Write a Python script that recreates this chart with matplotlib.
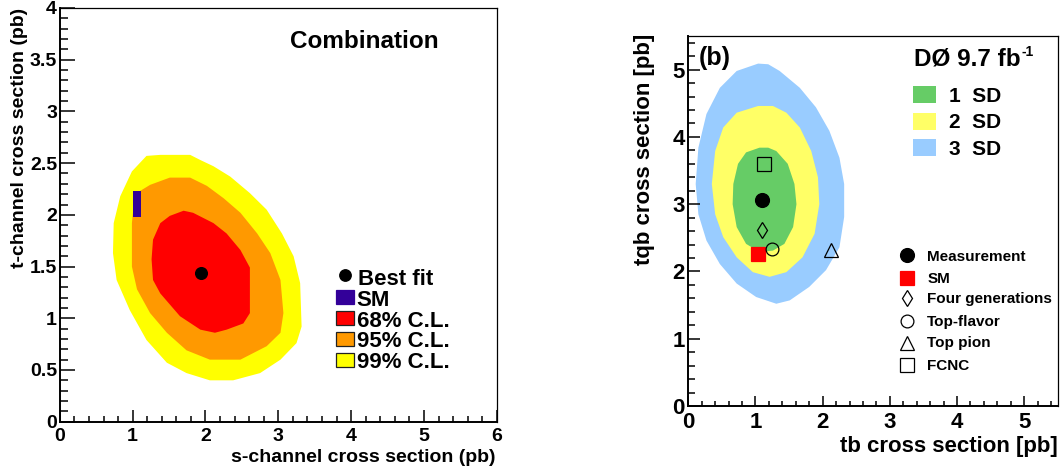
import matplotlib
matplotlib.use("Agg")
import matplotlib.pyplot as plt
from matplotlib.ticker import MultipleLocator, FuncFormatter
from matplotlib.patches import Rectangle

plt.rcParams['font.family'] = ['Liberation Sans', 'DejaVu Sans']
plt.rcParams['font.weight'] = 'bold'

W, H = 1062, 469

# ---------------- Left panel: s-channel vs t-channel combination ----------------
cl99_s = [0.99, 1.19, 1.38, 1.79, 1.93, 2.11, 2.34, 2.61, 2.84, 3.05, 3.21, 3.30, 3.32,
          3.25, 3.03, 2.75, 2.38, 2.06, 1.74, 1.47, 1.19, 0.96, 0.78, 0.73, 0.74, 0.83]
cl99_t = [2.42, 2.57, 2.58, 2.58, 2.53, 2.47, 2.37, 2.21, 2.05, 1.82, 1.60, 1.34, 0.92,
          0.76, 0.60, 0.47, 0.40, 0.40, 0.47, 0.57, 0.79, 1.08, 1.37, 1.63, 1.92, 2.18]

cl95_s = [1.03, 1.24, 1.51, 1.79, 2.02, 2.25, 2.48, 2.71, 2.89, 3.03, 3.07, 3.03, 2.84,
          2.48, 2.06, 1.74, 1.47, 1.24, 1.06, 0.99, 0.99]
cl95_t = [2.20, 2.29, 2.36, 2.36, 2.28, 2.16, 2.02, 1.82, 1.63, 1.37, 1.05, 0.86, 0.73,
          0.60, 0.60, 0.69, 0.86, 1.05, 1.28, 1.50, 1.92]

cl68_s = [1.38, 1.51, 1.70, 1.83, 2.11, 2.29, 2.48, 2.61, 2.61, 2.52, 2.29, 2.13, 1.93,
          1.65, 1.38, 1.28, 1.26, 1.28]
cl68_t = [1.92, 1.99, 2.04, 2.02, 1.92, 1.82, 1.66, 1.49, 1.05, 0.95, 0.89, 0.86, 0.89,
          1.02, 1.24, 1.37, 1.57, 1.76]

best_fit_s, best_fit_t = 1.94, 1.44
sm_s_range = (1.00, 1.115)
sm_t_range = (1.98, 2.235)

left_legend_labels = ["Best fit", "SM", "68% C.L.", "95% C.L.", "99% C.L."]

# ---------------- Right panel: tb vs tqb, D0 9.7 fb^-1 ----------------
sd3_tb = [1.04, 0.72, 0.47, 0.27, 0.15, 0.11, 0.15, 0.27, 0.47, 0.72, 1.01, 1.31,
          1.51, 1.80, 2.05, 2.25, 2.32, 2.32, 2.25, 2.10, 1.90, 1.66, 1.36, 1.19]
sd3_tqb = [5.09, 4.98, 4.73, 4.34, 3.84, 3.30, 2.85, 2.46, 2.11, 1.82, 1.62, 1.52,
           1.57, 1.77, 2.02, 2.36, 2.81, 3.30, 3.69, 4.09, 4.44, 4.73, 4.98, 5.08]

sd2_tb = [1.04, 0.72, 0.52, 0.40, 0.35, 0.40, 0.52, 0.72, 0.96, 1.21, 1.46, 1.70,
          1.88, 1.95, 1.93, 1.83, 1.66, 1.46, 1.26]
sd2_tqb = [4.46, 4.36, 4.14, 3.79, 3.30, 2.85, 2.51, 2.21, 1.99, 1.92, 1.99, 2.21,
           2.56, 3.00, 3.40, 3.79, 4.14, 4.36, 4.46]

sd1_tb = [1.06, 0.86, 0.74, 0.67, 0.66, 0.72, 0.86, 1.06, 1.26, 1.43, 1.56, 1.61,
          1.58, 1.48, 1.31, 1.19]
sd1_tqb = [3.84, 3.77, 3.60, 3.30, 3.00, 2.66, 2.41, 2.29, 2.31, 2.41, 2.66, 3.00,
           3.30, 3.60, 3.79, 3.84]

sd_labels = ["1  SD", "2  SD", "3  SD"]

model_names = ["Measurement", "SM", "Four generations", "Top-flavor", "Top pion", "FCNC"]
model_tb = [1.10, 1.04, 1.10, 1.25, 2.12, 1.12]
model_tqb = [3.06, 2.26, 2.62, 2.33, 2.32, 3.60]

# ---------------- styles ----------------
c_red, c_orange, c_yellow, c_sm = "#ff0000", "#ff9900", "#ffff00", "#330099"
c_g1, c_g2, c_g3 = "#66cc66", "#ffff66", "#99ccff"
model_markers = ["o", "s", "d", "o", "^", "s"]
model_faces = ["black", "red", "none", "none", "none", "none"]
model_edges = ["black", "red", "black", "black", "black", "black"]
model_sizes = [10.0, 10.0, 8.0, 9.2, 9.4, 9.4]

fig = plt.figure(figsize=(W / 100, H / 100), dpi=100)
fig.patch.set_facecolor("white")


def frame(ax, xlen, xmin, ylen, ymin, xpad, ypad, size):
    for s in ("left", "bottom"):
        ax.spines[s].set_linewidth(1.4)
    for s in ("top", "right"):
        ax.spines[s].set_linewidth(0.9)
    ax.tick_params(axis="x", which="major", direction="in", length=xlen, width=1.1,
                   pad=xpad, labelsize=size, top=False)
    ax.tick_params(axis="x", which="minor", direction="in", length=xmin, width=1.1, top=False)
    ax.tick_params(axis="y", which="major", direction="in", length=ylen, width=1.1,
                   pad=ypad, labelsize=size, right=False)
    ax.tick_params(axis="y", which="minor", direction="in", length=ymin, width=1.1, right=False)
    for lab in ax.get_xticklabels() + ax.get_yticklabels():
        lab.set_fontweight("bold")


fmt = FuncFormatter(lambda v, p: f"{v:g}")

# Left panel
axL = fig.add_axes([59.8 / W, 1 - 421.7 / H, 437.0 / W, 413.7 / H])
axL.fill(cl99_s, cl99_t, color=c_yellow, lw=0)
axL.fill(cl95_s, cl95_t, color=c_orange, lw=0)
axL.fill(cl68_s, cl68_t, color=c_red, lw=0)
axL.add_patch(Rectangle((sm_s_range[0], sm_t_range[0]), sm_s_range[1] - sm_s_range[0],
                        sm_t_range[1] - sm_t_range[0], facecolor=c_sm, edgecolor="none"))
axL.plot([best_fit_s], [best_fit_t], "o", color="black", ms=8.4)
axL.set_xlim(0, 6)
axL.set_ylim(0, 4)
axL.xaxis.set_major_locator(MultipleLocator(1))
axL.xaxis.set_minor_locator(MultipleLocator(0.2))
axL.yaxis.set_major_locator(MultipleLocator(0.5))
axL.yaxis.set_minor_locator(MultipleLocator(0.1))
axL.xaxis.set_major_formatter(fmt)
axL.yaxis.set_major_formatter(fmt)
frame(axL, 8.9, 4.1, 10.6, 6.0, 4.5, 2.0, 14)

# Right panel
axR = fig.add_axes([688.3 / W, 1 - 406.0 / H, 369.5 / W, 370.0 / H])
axR.fill(sd3_tb, sd3_tqb, color=c_g3, lw=0)
axR.fill(sd2_tb, sd2_tqb, color=c_g2, lw=0)
axR.fill(sd1_tb, sd1_tqb, color=c_g1, lw=0)
for x, y, m, fc, ec, ms in zip(model_tb, model_tqb, model_markers, model_faces,
                               model_edges, model_sizes):
    axR.plot([x], [y], m, ms=ms, mfc=fc, mec=ec, mew=0.9)
axR.set_xlim(0, 5.5)
axR.set_ylim(0, 5.5)
axR.xaxis.set_major_locator(MultipleLocator(1))
axR.xaxis.set_minor_locator(MultipleLocator(0.2))
axR.yaxis.set_major_locator(MultipleLocator(1))
axR.yaxis.set_minor_locator(MultipleLocator(0.2))
axR.xaxis.set_major_formatter(fmt)
axR.yaxis.set_major_formatter(fmt)
frame(axR, 7.2, 3.8, 8.4, 4.8, 4.0, 2.4, 16)

# Overlay in figure pixels for titles, axis titles and legends
ov = fig.add_axes([0, 0, 1, 1])
ov.set_xlim(0, W)
ov.set_ylim(H, 0)
ov.axis("off")
ov.patch.set_alpha(0)

tk = dict(fontweight="bold", color="black")
ov.text(24, 8.3, "t-channel cross section (pb)", rotation=90, ha="right", va="baseline",
        rotation_mode="anchor", fontsize=14, **tk)
ov.text(495.7, 461.7, "s-channel cross section (pb)", ha="right", va="baseline",
        fontsize=14, **tk)
ov.text(650, 33.3, "tqb cross section [pb]", rotation=90, ha="right", va="baseline",
        rotation_mode="anchor", fontsize=16, **tk)
ov.text(1057.8, 451.7, "tb cross section [pb]", ha="right", va="baseline",
        fontsize=16, **tk)
ov.text(290, 48.3, "Combination", ha="left", va="baseline", fontsize=17.5, **tk)
ov.text(698.3, 65, "(b)", ha="left", va="baseline", fontsize=18, **tk)

# luminosity label with superscript placed right after the main text
lumi = ov.text(914, 65.7, "DØ 9.7 fb", ha="left", va="baseline", fontsize=17.5, **tk)
renderer = fig.canvas.get_renderer()
bb = lumi.get_window_extent(renderer=renderer)
ov.text(bb.x1 + 1.0, 55.7, "-1", ha="left", va="baseline", fontsize=10, **tk)

# Left legend
ov.plot([345], [275], "o", color="black", ms=8.2)
left_fill = [c_sm, c_red, c_orange, c_yellow]
left_edge = [c_sm, "#222222", "#222222", "#222222"]
box_tops = [290, 311, 331.7, 352.7]
for fc, ec, top in zip(left_fill, left_edge, box_tops):
    ov.add_patch(Rectangle((336, top), 18.3, 14.3, facecolor=fc, edgecolor=ec, lw=0.9))
left_baselines = [285, 305.7, 326.7, 347.3, 368.3]
left_x = [358.3, 356.7, 356.7, 356.7, 356.7]
for lab, x, y in zip(left_legend_labels, left_x, left_baselines):
    ov.text(x, y, lab, ha="left", va="baseline", fontsize=16, **tk)

# Right legend: significance bands
for fc, top, lab, base in zip([c_g1, c_g2, c_g3], [86, 112.7, 139.3], sd_labels,
                              [101.7, 128.3, 155]):
    ov.add_patch(Rectangle((913.3, top), 22.7, 17, facecolor=fc, edgecolor="none"))
    ov.text(949, base, lab, ha="left", va="baseline", fontsize=15, **tk)

# Right legend: models
row_y = [255, 277.7, 298.3, 321, 342.7, 365]
row_base = [260.7, 282.7, 303.3, 326, 347.3, 370]
for name, m, fc, ec, ms, y, b in zip(model_names, model_markers, model_faces,
                                      model_edges, model_sizes, row_y, row_base):
    ov.plot([906.7], [y], m, ms=ms, mfc=fc, mec=ec, mew=0.9)
    ov.text(927.3, b, name, ha="left", va="baseline", fontsize=11, **tk)

fig.savefig("out.png", dpi=100)
